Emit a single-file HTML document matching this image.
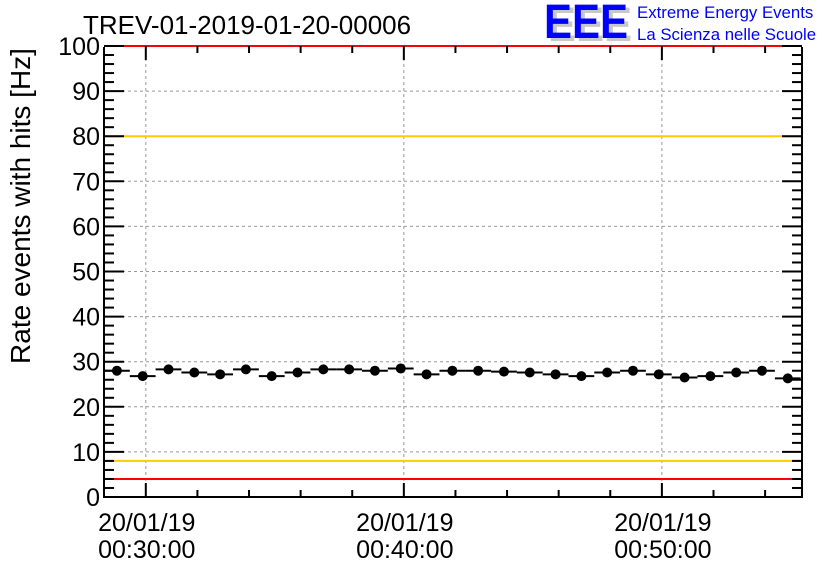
<!DOCTYPE html>
<html><head><meta charset="utf-8"><style>
body{margin:0;background:#fff;}
svg{display:block;font-family:"Liberation Sans",sans-serif;}
</style></head><body>
<svg id="c" width="836" height="572" viewBox="0 0 836 572">
<text x="83" y="34" font-size="26">TREV-01-2019-01-20-00006</text>
<g>
<text x="548" y="41" font-size="48" font-weight="bold" fill="#c8c8c8" textLength="84" lengthAdjust="spacingAndGlyphs">EEE</text>
<text x="544" y="38" font-size="48" font-weight="bold" fill="#0000ff" textLength="84" lengthAdjust="spacingAndGlyphs">EEE</text>
<text x="637" y="18" font-size="16.8" fill="#0000ff">Extreme Energy Events</text>
<text x="637" y="40" font-size="16.8" fill="#0000ff">La Scienza nelle Scuole</text>
</g>
<text transform="translate(30,206) rotate(-90)" text-anchor="middle" font-size="28">Rate events with hits [Hz]</text>
<g id="plot"></g>
</svg>
<script>
const yTicks=[0,10,20,30,40,50,60,70,80,90,100];
const xTickMinutes=[30,40,50];
const xTickLabels=[["20/01/19","00:30:00"],["20/01/19","00:40:00"],["20/01/19","00:50:00"]];
const binStartMinute=28.38;
const rates=[28.0,26.8,28.3,27.6,27.2,28.3,26.8,27.6,28.3,28.3,28.0,28.5,27.2,28.0,28.0,27.8,27.6,27.2,26.8,27.6,28.0,27.2,26.5,26.8,27.6,28.0,26.3];
const refLinesRed=[100,4];
const refLinesOrange=[80,8];
const L=104,R=802,T=46,B=497,xMin=28.38,xMax=55.43;
const X=m=>L+(m-xMin)/(xMax-xMin)*(R-L);
const Y=v=>B-v/100*(B-T);
const g=document.getElementById('plot');
const NS='http://www.w3.org/2000/svg';
function mk(t,a){const e=document.createElementNS(NS,t);for(const k in a)e.setAttribute(k,a[k]);g.appendChild(e);return e;}
yTicks.forEach(v=>{if(v>0&&v<100){const e=mk('line',{x1:L,x2:R,y1:Y(v),y2:Y(v),stroke:'#999','stroke-dasharray':'3,3','stroke-width':1});

}});
xTickMinutes.forEach(m=>{const e=mk('line',{x1:X(m),x2:X(m),y1:T,y2:B,stroke:'#999','stroke-dasharray':'3,3','stroke-width':1});

});
refLinesOrange.forEach(v=>{const e=mk('line',{x1:L,x2:R,y1:Y(v),y2:Y(v),stroke:'#ffcc00','stroke-width':2});

});
refLinesRed.forEach(v=>{const e=mk('line',{x1:L,x2:R,y1:Y(v),y2:Y(v),stroke:'#ff0000','stroke-width':2});

});
const fr=mk('path',{d:`M${L},${T+1}V${B}H${R}V${T+1}`,fill:'none',stroke:'#000','stroke-width':2});


for(let v=0;v<=100;v+=2){const maj=v%10===0,len=maj?20:10;
mk('line',{x1:L,x2:L+len,y1:Y(v),y2:Y(v),stroke:'#000','stroke-width':2});
mk('line',{x1:R-len,x2:R,y1:Y(v),y2:Y(v),stroke:'#000','stroke-width':2});}
yTicks.forEach(v=>{const e=mk('text',{x:L-4,y:Y(v)+9,'text-anchor':'end','font-size':25});e.textContent=v;

});
for(let m=30;m<=xMax;m+=2){const maj=(m%10===0),len=maj?14:7;
mk('line',{x1:X(m),x2:X(m),y1:B-len,y2:B,stroke:'#000','stroke-width':2});
mk('line',{x1:X(m),x2:X(m),y1:T,y2:T+len,stroke:'#000','stroke-width':2});}
xTickMinutes.forEach((m,i)=>{xTickLabels[i].forEach((s,j)=>{const e=mk('text',{x:X(m)+1,y:531+j*27,'text-anchor':'middle','font-size':25});e.textContent=s;

});});
rates.forEach((r,i)=>{const x0=X(binStartMinute+i),x1=X(binStartMinute+i+1),y=Y(r);
const h=mk('line',{x1:x0,x2:x1,y1:y,y2:y,stroke:'#000','stroke-width':2});


const c=mk('circle',{cx:(x0+x1)/2,cy:y,r:5,fill:'#000'});

});
</script>
</body></html>
